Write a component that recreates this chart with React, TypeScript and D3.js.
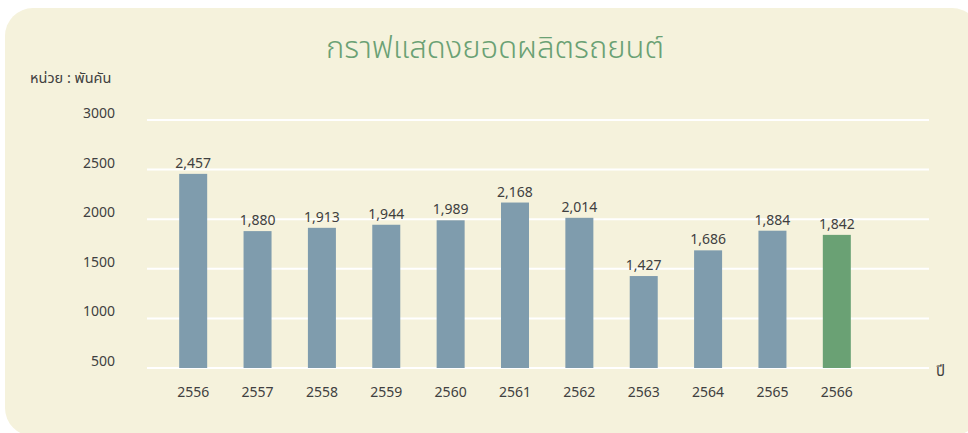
import React from 'react';
import { scaleBand, scaleLinear } from 'd3';

const width = 968;
const height = 433;

const years = ['2556', '2557', '2558', '2559', '2560', '2561', '2562', '2563', '2564', '2565', '2566'];
const production = [2457, 1880, 1913, 1944, 1989, 2168, 2014, 1427, 1686, 1884, 1842];
const yTicks = [500, 1000, 1500, 2000, 2500, 3000];

const title = 'กราฟแสดงยอดผลิตรถยนต์';
const unitLabel = 'หน่วย : พันคัน';
const xLabel = 'ปี';

const font = '"Noto Sans Thai", "Noto Sans", Tahoma, sans-serif';
const textColor = '#404040';

const App = () => {
  const xScale = scaleBand<string>()
    .domain(years)
    .range([161, 869])
    .paddingInner(0.565)
    .paddingOuter(0.2825);
  const yScale = scaleLinear().domain([500, 3000]).range([368, 120]);
  const bw = xScale.bandwidth();

  return (
    <svg
      width={width}
      height={height}
      style={{ position: 'absolute', left: 0, top: 0, fontFamily: font }}
    >
      <rect x={0} y={0} width={width} height={height} fill="#ffffff" />
      <rect x={5} y={8} width={975} height={428} rx={28} fill="#f5f2dc" />
      <text
        x={495}
        y={58}
        textAnchor="middle"
        fontSize={31}
        fontWeight={300}
        fill="#6aa174"
      >
        {title}
      </text>
      <text x={30} y={83} fontSize={14.5} fill={textColor}>
        {unitLabel}
      </text>
      {yTicks.map((t) => (
        <g key={t}>
          <line
            x1={147}
            x2={929}
            y1={yScale(t)}
            y2={yScale(t)}
            stroke="#ffffff"
            strokeWidth={2}
          />
          <text
            x={115}
            y={yScale(t)}
            dy="-0.15em"
            textAnchor="end"
            fontSize={14}
            fill={textColor}
          >
            {t}
          </text>
        </g>
      ))}
      {years.map((y, i) => {
        const x = xScale(y) as number;
        const v = production[i];
        return (
          <g key={y}>
            <rect
              x={x}
              y={yScale(v)}
              width={bw}
              height={yScale(500) - yScale(v)}
              fill={i === years.length - 1 ? '#6aa174' : '#7f9cad'}
            />
            <text
              x={x + bw / 2}
              y={yScale(v) - 6}
              textAnchor="middle"
              fontSize={14}
              fill={textColor}
            >
              {v.toLocaleString('en-US')}
            </text>
            <text
              x={x + bw / 2}
              y={397}
              textAnchor="middle"
              fontSize={14}
              fill={textColor}
            >
              {y}
            </text>
          </g>
        );
      })}
      <text x={936} y={376} fontSize={15} fill={textColor}>
        {xLabel}
      </text>
    </svg>
  );
};

export default App;
